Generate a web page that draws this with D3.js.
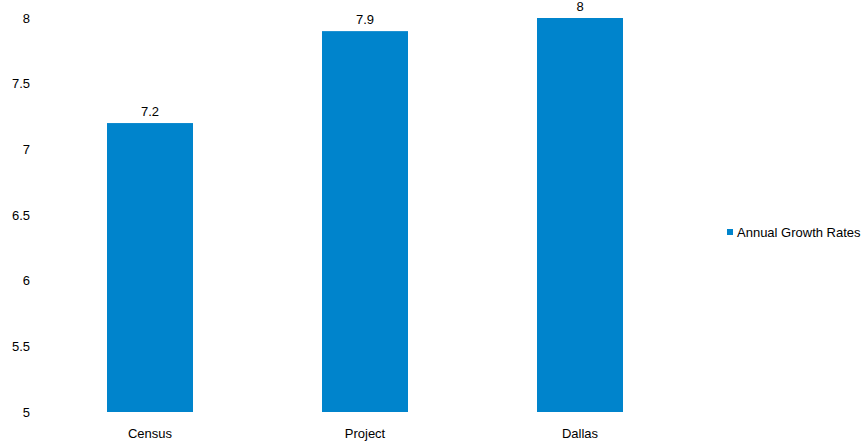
<!DOCTYPE html>
<html>
<head>
<meta charset="utf-8">
<script src="https://cdn.jsdelivr.net/npm/d3@7"></script>
<style>
  body { margin: 0; background: #fff; }
  text { font-family: "Liberation Sans", Arial, sans-serif; font-size: 13px; fill: #000; }
</style>
</head>
<body>
<svg id="chart" width="865" height="443"></svg>
<script>
// Daten
const categories = ["Census", "Project", "Dallas"];
const values = [7.2, 7.9, 8];
const yTicks = [5, 5.5, 6, 6.5, 7, 7.5, 8];
const seriesName = "Annual Growth Rates";
const barColor = "#0084cc";

const svg = d3.select("#chart");

const x = d3.scaleBand()
    .domain(categories)
    .range([42.5, 687.5])
    .paddingInner(0.6)
    .paddingOuter(0.3);

const y = d3.scaleLinear()
    .domain([5, 8])
    .range([412, 18]);

// Y-Achse (nur Beschriftung)
const yAxis = svg.append("g")
    .attr("transform", "translate(30,0)")
    .call(d3.axisLeft(y).tickValues(yTicks).tickSize(0).tickPadding(0).tickFormat(d => d));
yAxis.select(".domain").remove();
yAxis.selectAll("text").attr("font-size", null).attr("font-family", null);

// X-Achse
const xAxis = svg.append("g")
    .attr("transform", "translate(0,412)")
    .call(d3.axisBottom(x).tickSize(0).tickPadding(17));
xAxis.select(".domain").remove();
xAxis.selectAll("text").attr("font-size", null).attr("font-family", null);

// Balken
svg.selectAll("rect.bar")
    .data(values)
    .join("rect")
    .attr("class", "bar")
    .attr("x", (d, i) => x(categories[i]))
    .attr("y", d => y(d))
    .attr("width", x.bandwidth())
    .attr("height", d => y(5) - y(d))
    .attr("fill", barColor);

// Werte
svg.selectAll("text.val")
    .data(values)
    .join("text")
    .attr("class", "val")
    .attr("x", (d, i) => x(categories[i]) + x.bandwidth() / 2)
    .attr("y", d => y(d) - 7)
    .attr("text-anchor", "middle")
    .text(d => d);

// Legende
const legend = svg.append("g").attr("transform", "translate(727,229)");
legend.append("rect").attr("width", 6).attr("height", 6).attr("fill", barColor);
legend.append("text")
    .attr("x", 10)
    .attr("y", 3)
    .attr("dy", "0.35em")
    .text(seriesName);
</script>
</body>
</html>
